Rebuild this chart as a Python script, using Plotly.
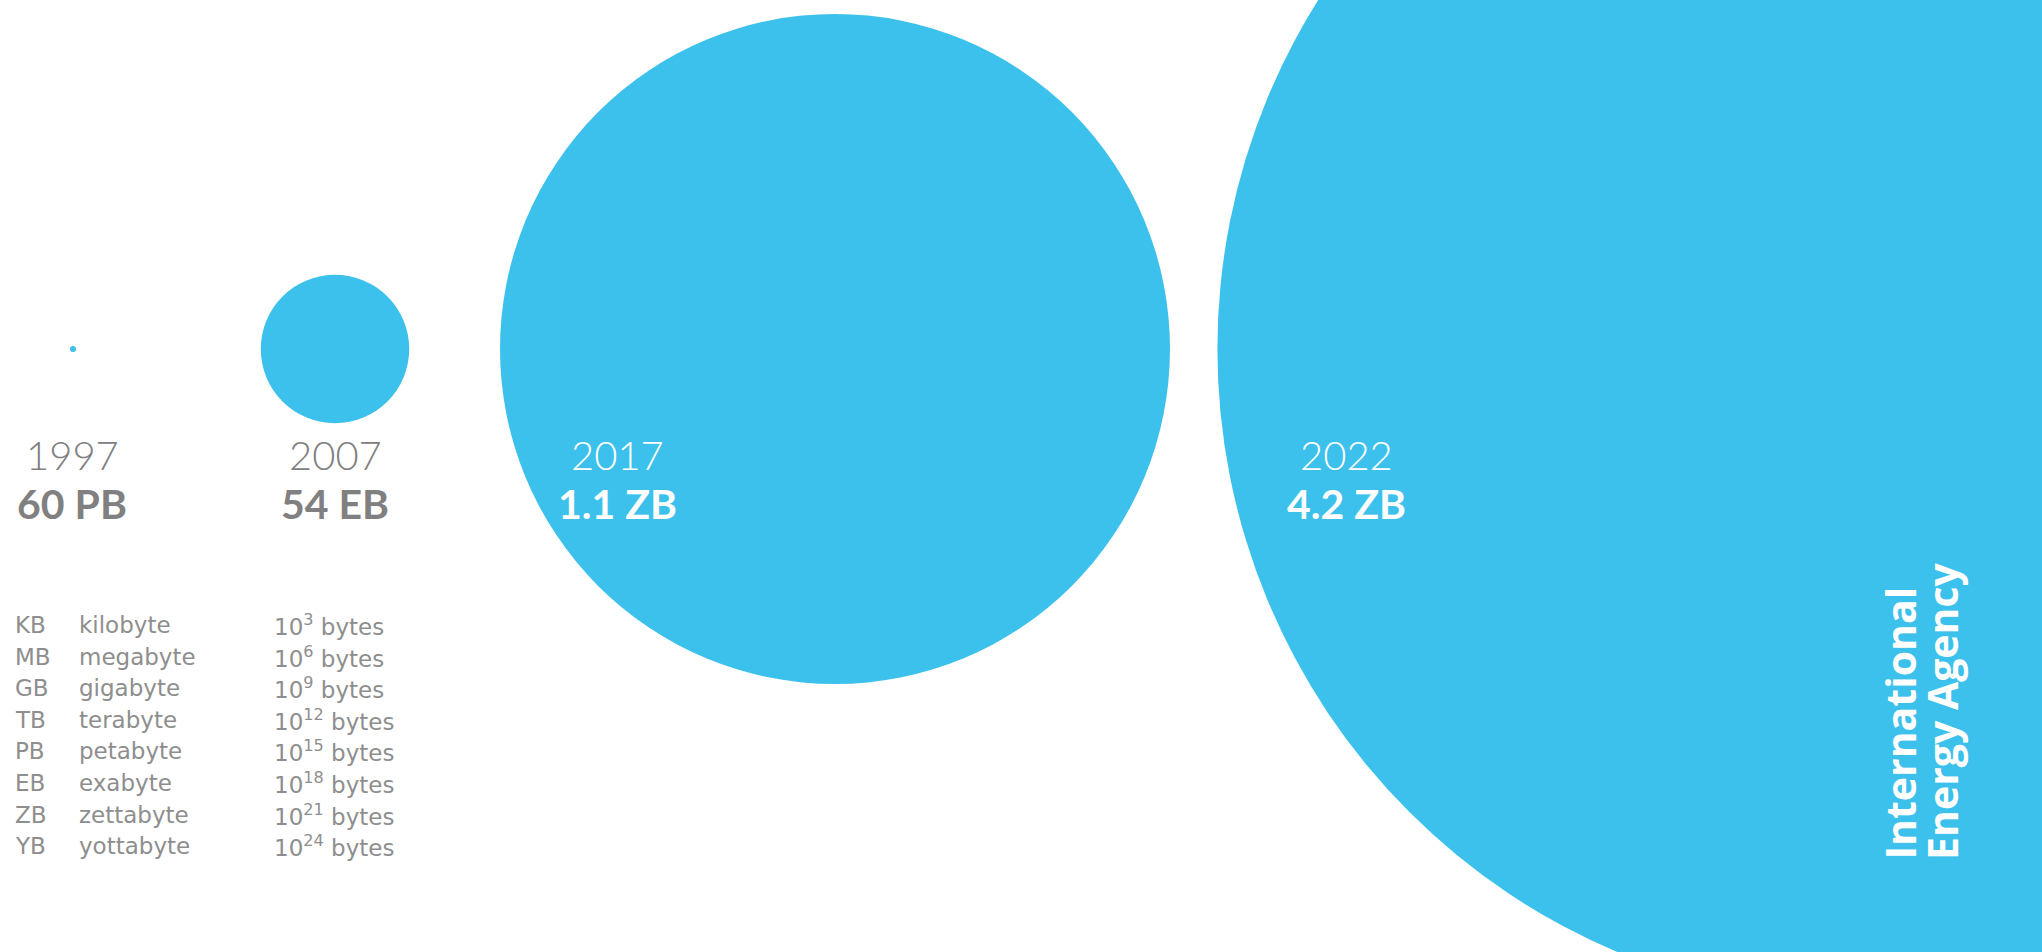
import plotly.graph_objects as go

# ---------------- data ----------------
years = ["1997", "2007", "2017", "2022"]
value_labels = ["60 PB", "54 EB", "1.1 ZB", "4.2 ZB"]
values_eb = [0.06, 54, 1100, 4200]          # data volume expressed in exabytes

unit_abbr = ["KB", "MB", "GB", "TB", "PB", "EB", "ZB", "YB"]
unit_name = ["kilobyte", "megabyte", "gigabyte", "terabyte",
             "petabyte", "exabyte", "zettabyte", "yottabyte"]
unit_power = [3, 6, 9, 12, 15, 18, 21, 24]

source_lines = ["International", "Energy Agency"]

# ---------------- layout constants ----------------
W, H = 2042, 952
BLUE = "#3CC1EC"
GREY = "#808080"
CENTER_X = [73, 335, 835, 1872]     # circle centre positions (px)
CENTER_Y = 349
LABEL_X = [72, 335, 617, 1346]       # year / value label centres (px)
YEAR_Y, VALUE_Y = 455, 503
REF_DIAM = 670                        # pixel diameter given to the 2017 circle
sizeref = 2.0 * values_eb[2] / (REF_DIAM ** 2)

fig = go.Figure()

fig.add_trace(go.Scatter(
    x=CENTER_X, y=[CENTER_Y] * len(values_eb),
    mode="markers",
    marker=dict(size=values_eb, sizemode="area", sizeref=sizeref, sizemin=3,
                color=BLUE, line=dict(width=0), opacity=1),
    hoverinfo="skip", showlegend=False, cliponaxis=True,
))

annotations = []
for i, (yr, val) in enumerate(zip(years, value_labels)):
    col = GREY if i < 2 else "white"
    annotations.append(dict(
        x=LABEL_X[i], y=YEAR_Y, text=yr, showarrow=False,
        xanchor="center", yanchor="middle",
        font=dict(family="Lato", size=40, weight=300, color=col)))
    annotations.append(dict(
        x=LABEL_X[i], y=VALUE_Y, text=val, showarrow=False,
        xanchor="center", yanchor="middle",
        font=dict(family="Lato", size=41, weight=700, color=col)))

ROW0, ROWSTEP = 625, 31.6
for i, (a, n, p) in enumerate(zip(unit_abbr, unit_name, unit_power)):
    yy = ROW0 + i * ROWSTEP
    f = dict(family="DejaVu Sans", size=23, weight=400, color="#8e8e8e")
    annotations.append(dict(x=13, y=yy, text=a, showarrow=False,
                            xanchor="left", yanchor="middle", font=f))
    annotations.append(dict(x=77, y=yy, text=n, showarrow=False,
                            xanchor="left", yanchor="middle", font=f))
    annotations.append(dict(x=272, y=yy, text=f"10<sup>{p}</sup> bytes", showarrow=False,
                            xanchor="left", yanchor="middle", font=f))

SRC_X = [1899, 1942]
for line, xx in zip(source_lines, SRC_X):
    annotations.append(dict(
        x=xx, y=862, text=line, showarrow=False, textangle=-90,
        xanchor="center", yanchor="bottom",
        font=dict(family="Open Sans", size=41, weight=700, color="white")))

fig.update_layout(
    width=W, height=H, autosize=False,
    margin=dict(l=0, r=0, t=0, b=0, pad=0),
    paper_bgcolor="white", plot_bgcolor="white",
    xaxis=dict(range=[0, W], visible=False, fixedrange=True),
    yaxis=dict(range=[H, 0], visible=False, fixedrange=True),
    annotations=annotations,
    showlegend=False,
)

fig.write_html("out.html", config={"displayModeBar": False})
